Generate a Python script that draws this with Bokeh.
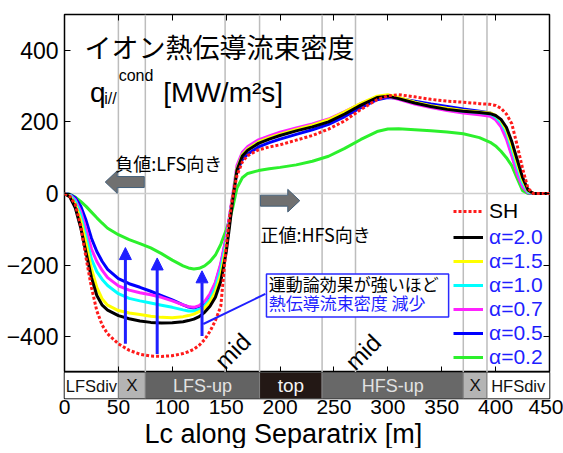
from bokeh.plotting import figure
from bokeh.models import (Range1d, LinearAxis, FixedTicker, Span, Label, Legend, LegendItem,
                          Arrow, NormalHead, BoxAnnotation, ColumnDataSource, Title)
from bokeh.layouts import column
from bokeh.embed import file_html
from bokeh.resources import INLINE
from bokeh.core.properties import value

# ---------------- data ----------------
lc = [0, 5, 10, 15, 20, 25, 30, 35, 40, 50, 60, 70, 80, 90, 100, 110, 115, 120, 125, 130, 135,
      140, 145, 150, 153, 156, 160, 165, 170, 180, 190, 200, 215, 230, 245, 260, 275, 290, 300,
      310, 325, 340, 355, 370, 385, 395, 400, 405, 410, 415, 420, 425, 430, 435, 440, 450]

sh = [0, -8, -30, -90, -180, -262, -328, -368, -392, -420, -438, -449, -454, -455, -453, -447,
      -442, -435, -424, -408, -385, -355, -315, -150, -70, -10, 50, 88, 106, 122, 130, 136, 149,
      162, 180, 203, 235, 262, 273, 276, 270, 263, 258, 255, 251, 249, 246, 238, 222, 195, 135,
      70, 15, 0, 0, 0]
a20 = [0, -10, -40, -95, -165, -235, -285, -312, -326, -341, -350, -356, -360, -362, -361, -358,
       -355, -351, -344, -332, -315, -290, -245, -165, -95, -20, 65, 105, 121, 140, 152, 162, 175,
       186, 200, 222, 247, 268, 272, 265, 253, 243, 235, 230, 226, 223, 218, 207, 185, 145, 95,
       45, 10, 0, 0, 0]
a15 = [0, -8, -30, -75, -140, -210, -262, -295, -312, -327, -334, -338, -343, -346, -347, -344,
       -341, -337, -330, -320, -303, -275, -228, -150, -85, -15, 68, 108, 124, 144, 156, 166, 179,
       191, 206, 228, 252, 272, 276, 268, 255, 245, 238, 232, 228, 225, 218, 204, 178, 135, 85,
       38, 8, 0, 0, 0]
a10 = [0, -5, -22, -60, -122, -183, -218, -240, -257, -280, -293, -300, -306, -312, -318, -325,
       -328, -328, -324, -314, -295, -264, -212, -138, -78, -12, 68, 108, 124, 144, 155, 165, 178,
       190, 204, 226, 250, 270, 273, 266, 254, 244, 237, 230, 226, 222, 214, 198, 170, 125, 75,
       30, 5, 0, 0, 0]
a07 = [0, -4, -18, -50, -100, -155, -190, -215, -235, -258, -270, -277, -283, -290, -300, -311,
       -316, -318, -313, -302, -280, -248, -195, -122, -65, -5, 78, 115, 131, 150, 161, 171, 183,
       194, 208, 229, 251, 269, 271, 263, 250, 240, 232, 225, 220, 216, 206, 186, 152, 105, 55,
       18, 2, 0, 0, 0]
a05 = [0, -3, -12, -35, -75, -125, -162, -190, -212, -238, -252, -262, -273, -285, -297, -311,
       -317, -320, -316, -305, -284, -252, -200, -125, -70, -10, 60, 95, 110, 130, 142, 152, 165,
       178, 193, 215, 240, 262, 268, 266, 258, 250, 243, 236, 230, 225, 215, 195, 160, 110, 60,
       20, 3, 0, 0, 0]
a02 = [0, -2, -10, -22, -36, -52, -68, -83, -97, -115, -129, -140, -152, -168, -186, -202,
       -208, -211, -209, -202, -190, -172, -142, -102, -75, -40, 15, 44, 56, 64, 69, 73, 80,
       90, 104, 126, 151, 173, 180, 181, 178, 175, 172, 167, 156, 143, 133, 118, 100, 78, 42,
       8, 0, 0, 0, 0]

series_labels = ["α=2.0", "α=1.5", "α=1.0", "α=0.7", "α=0.5", "α=0.2"]
series_colors = ["#000000", "#ffff00", "#00ffff", "#ff22ff", "#0000ff", "#2cf02c"]

x_ticks = [0, 50, 100, 150, 200, 250, 300, 350, 400, 450]
y_ticks = [-400, -200, 0, 200, 400]

# region boundaries along the separatrix
reg_start = [0, 50, 75, 181, 239, 370, 392]
reg_end = [50, 75, 181, 239, 370, 392, 450]
reg_name = ["LFSdiv", "X", "LFS-up", "top", "HFS-up", "X", "HFSdiv"]
reg_fill = ["#ffffff", "#b4b4b4", "#636363", "#231815", "#686868", "#b4b4b4", "#ffffff"]
reg_text = ["#111111", "#111111", "#e2e2e2", "#f4f4f4", "#e2e2e2", "#111111", "#111111"]
reg_size = ["16.5px", "17px", "18px", "19px", "18px", "17px", "16.5px"]
grid_lines = [50, 75, 149, 181, 239, 270, 370, 392]
mid_x = [156, 277]
mid_y = [-440, -443]

# blue "increase" arrows
up_x = [56.5, 86, 127.6]
up_tail = [-420, -448, -398]
up_tip = [-151, -180, -216]

# grey direction arrows: (tail x, tip x, centre y)
dir_arrows = [(74, 37.8, 32), (181.8, 218.3, -20)]

FONT = "Liberation Sans"
JP = "Noto Sans CJK JP"
BLUE = "#1f1fff"

# ---------------- main figure ----------------
p = figure(frame_width=485, frame_height=358, x_range=Range1d(0, 450), y_range=Range1d(-500, 500),
           output_backend="svg", toolbar_location=None, title=None,
           min_border_left=64, min_border_right=5, min_border_top=14, min_border_bottom=0)
p.grid.grid_line_color = None
p.outline_line_color = "black"
p.outline_line_width = 1.5


def style_axis(ax, ticks, labels, size="23px"):
    ax.ticker = FixedTicker(ticks=ticks)
    ax.axis_line_color = None
    ax.major_tick_in = 6
    ax.major_tick_out = 0
    ax.major_tick_line_color = "black"
    ax.major_tick_line_width = 1
    ax.minor_tick_line_color = None
    if labels:
        ax.major_label_text_font = FONT
        ax.major_label_text_font_size = size
        ax.major_label_text_color = "black"
        ax.major_label_standoff = 6
    else:
        ax.major_label_overrides = {t: "" for t in ticks}
        ax.major_label_text_font_size = "0px"
        ax.major_label_standoff = 0


style_axis(p.yaxis[0], y_ticks, True)
style_axis(p.xaxis[0], x_ticks, False)
ax_r = LinearAxis()
style_axis(ax_r, y_ticks, False)
p.add_layout(ax_r, "right")
ax_t = LinearAxis()
style_axis(ax_t, x_ticks, False)
p.add_layout(ax_t, "above")

for g in grid_lines:
    p.add_layout(Span(location=g, dimension="height", line_color="#bdbdbd", line_width=1.5,
                      level="underlay"))
p.add_layout(Span(location=0, dimension="width", line_color="#cfcfcf", line_width=1.5,
                  level="underlay"))

# curves
alpha_data = [a20, a15, a10, a07, a05, a02]
renderers = {}
for lab, col, ys in reversed(list(zip(series_labels, series_colors, alpha_data))):
    renderers[lab] = p.line(lc, ys, line_color=col, line_width=3)
r_sh = p.line(lc, sh, line_color="#ff1a1a", line_width=3, line_dash="3 2")

# legends
leg_common = dict(glyph_width=30, glyph_height=24, label_height=24, label_standoff=6, spacing=0,
                  padding=0, margin=0, border_line_alpha=0, background_fill_alpha=0,
                  label_text_font=FONT, label_text_font_size="21px")
leg1 = Legend(items=[LegendItem(label="SH", renderers=[r_sh])], location=(389, 149),
              label_text_color="black", **leg_common)
leg2 = Legend(items=[LegendItem(label=l, renderers=[renderers[l]]) for l in series_labels],
              location=(389, 3), label_text_color=BLUE, **leg_common)
p.add_layout(leg1)
p.add_layout(leg2)

# grey direction arrows (block arrows)
px_per_m = 485 / 450
px_per_u = 358 / 1000
bh, hh, hl = 5.5 / px_per_u, 11.3 / px_per_u, 12 / px_per_m
xs, ys = [], []
for tail, tip, yc in dir_arrows:
    d = 1 if tip > tail else -1
    hb = tip - d * hl
    xs.append([tail, hb, hb, tip, hb, hb, tail])
    ys.append([yc + bh, yc + bh, yc + hh, yc, yc - hh, yc - bh, yc - bh])
p.patches(xs, ys, fill_color="#707070", line_color="#44607a", line_width=1)

# blue arrows
src = ColumnDataSource(dict(x0=up_x, y0=up_tail, x1=up_x, y1=up_tip))
p.add_layout(Arrow(end=NormalHead(size=12, fill_color=BLUE, line_color=BLUE),
                   x_start="x0", y_start="y0", x_end="x1", y_end="y1", source=src,
                   line_color=BLUE, line_width=3))

# note box + connector
p.line([186.4, 128.8], [-280.6, -364.5], line_color=BLUE, line_width=2)
p.add_layout(BoxAnnotation(left=187.4, right=356.4, top=-224.6, bottom=-345, fill_color="white",
                           fill_alpha=1, line_color="#2a2aff", line_width=1.5, line_alpha=1))
p.add_layout(Label(x=189.5, y=-252.6, text="運動論効果が強いほど", text_font=JP,
                   text_font_size="17px", text_color="black", text_baseline="middle"))
p.add_layout(Label(x=189.5, y=-305, text="熱伝導流束密度 減少", text_font=JP,
                   text_font_size="17px", text_color=BLUE, text_baseline="middle"))

# titles inside plot
p.add_layout(Label(x=18.5, y=411, text="イオン熱伝導流束密度", text_font=JP,
                   text_font_size="27px", text_color="black", text_baseline="middle"))
p.add_layout(Label(x=23.6, y=281.7, text="q", text_font=FONT, text_font_size="28px",
                   text_color="black", text_baseline="alphabetic"))
p.add_layout(Label(x=36.9, y=264, text="i//", text_font=FONT, text_font_size="16px",
                   text_color="black", text_baseline="alphabetic"))
p.add_layout(Label(x=50.3, y=331, text="cond", text_font=FONT, text_font_size="16px",
                   text_color="black", text_baseline="alphabetic"))
p.add_layout(Label(x=91.7, y=281.7, text="[MW/m²s]", text_font=FONT, text_font_size="28px",
                   text_color="black", text_baseline="alphabetic"))

p.add_layout(Label(x=47.1, y=86, text="負値:LFS向き", text_font=JP, text_font_size="18px",
                   text_color="black", text_baseline="middle"))
p.add_layout(Label(x=181.8, y=-112, text="正値:HFS向き", text_font=JP, text_font_size="18px",
                   text_color="black", text_baseline="middle"))

for mx, my in zip(mid_x, mid_y):
    p.add_layout(Label(x=mx, y=my, text="mid", angle=45, angle_units="deg", text_font=FONT,
                       text_font_size="24px", text_color="black", text_align="center",
                       text_baseline="middle"))

# ---------------- region bar (with x tick labels and axis title) ----------------
r = figure(frame_width=485, frame_height=26, x_range=p.x_range, y_range=Range1d(0, 1),
           output_backend="svg", toolbar_location=None, title=None, y_axis_location=None,
           min_border_left=64, min_border_right=14, min_border_top=0, min_border_bottom=0)
r.grid.grid_line_color = None
r.outline_line_color = "black"
r.outline_line_width = 1.5
reg_mid = [(a + b) / 2 for a, b in zip(reg_start, reg_end)]
rsrc = ColumnDataSource(dict(l=reg_start, r=reg_end, m=reg_mid, name=reg_name, fill=reg_fill,
                             tc=reg_text, fs=reg_size))
r.quad(left="l", right="r", bottom=0, top=1, fill_color="fill", line_color="#808080",
       line_width=1, source=rsrc)
r.text(x="m", y=0.5, text="name", text_color="tc", text_font_size="fs", text_font=value(FONT),
       text_align="center", text_baseline="middle", source=rsrc)
xa = r.xaxis[0]
xa.ticker = FixedTicker(ticks=x_ticks)
xa.axis_line_color = None
xa.major_tick_in = 0
xa.major_tick_out = 0
xa.minor_tick_line_color = None
xa.major_tick_line_color = None
xa.major_label_text_font = FONT
xa.major_label_text_font_size = "21px"
xa.major_label_text_color = "black"
xa.major_label_standoff = 1
r.add_layout(Title(text="Lc along Separatrix [m]", align="left", offset=80, text_font=FONT,
                   text_font_size="27px", text_font_style="normal", text_color="black",
                   standoff=0), "below")

layout = column(p, r, spacing=0)
open("out.html", "w").write(file_html(layout, INLINE))
